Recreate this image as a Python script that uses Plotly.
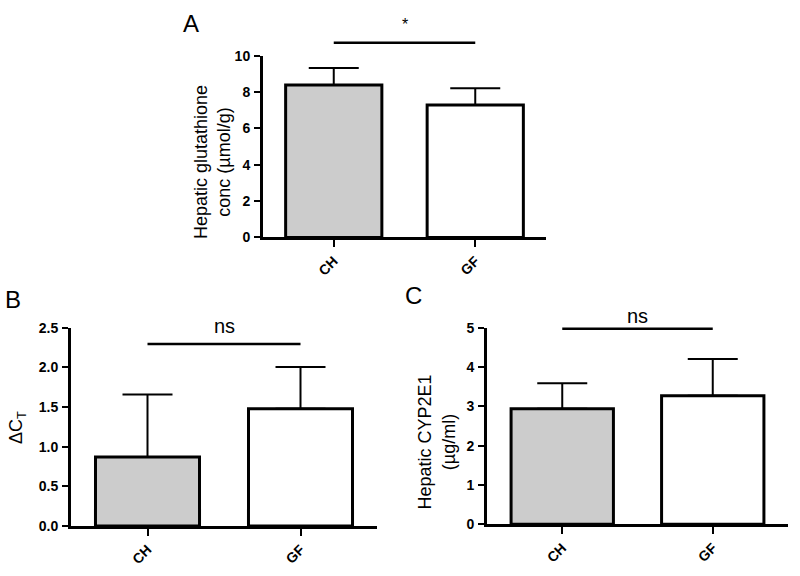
import plotly.graph_objects as go

categories = ["CH", "GF"]
bar_colors = ["#cccccc", "#ffffff"]

# Panel A: hepatic glutathione
glut_mean = [8.38, 7.29]
glut_err = [0.94, 0.91]
glut_ticks = [0, 2, 4, 6, 8, 10]

# Panel B: delta CT
dct_mean = [0.87, 1.48]
dct_err = [0.79, 0.525]
dct_ticks = [0.0, 0.5, 1.0, 1.5, 2.0, 2.5]

# Panel C: hepatic CYP2E1
cyp_mean = [2.94, 3.27]
cyp_err = [0.65, 0.94]
cyp_ticks = [0, 1, 2, 3, 4, 5]

FONT = "Liberation Sans, Arial, Helvetica, sans-serif"

fig = go.Figure()

panels = [
    dict(x="x", y="y", mean=glut_mean, err=glut_err),
    dict(x="x2", y="y2", mean=dct_mean, err=dct_err),
    dict(x="x3", y="y3", mean=cyp_mean, err=cyp_err),
]
for p in panels:
    fig.add_trace(go.Bar(
        x=categories, y=p["mean"], xaxis=p["x"], yaxis=p["y"],
        width=0.68,
        marker=dict(color=bar_colors, line=dict(color="black", width=3)),
        error_y=dict(type="data", array=p["err"], arrayminus=[0, 0],
                     symmetric=False, color="black", thickness=2, width=25),
        showlegend=False,
    ))

def xax(domain, anchor):
    return dict(domain=domain, anchor=anchor, type="category", range=[-0.5, 1.5],
                showline=True, linecolor="black", linewidth=3,
                ticks="outside", ticklen=7, tickwidth=2, tickcolor="black",
                tickangle=-45, showgrid=False, zeroline=False,
                tickfont=dict(family=FONT, size=14, color="black", weight="bold"))

def yax(domain, anchor, rng, tickvals, fmt):
    return dict(domain=domain, anchor=anchor, range=rng,
                showline=True, linecolor="black", linewidth=3,
                ticks="outside", ticklen=6, tickwidth=2, tickcolor="black",
                tickvals=tickvals, tickformat=fmt, ticklabelstandoff=1,
                showgrid=False, zeroline=False,
                tickfont=dict(family=FONT, size=14, color="black", weight="bold"))

fig.update_layout(
    width=800, height=576, autosize=False,
    margin=dict(l=0, r=0, t=0, b=0, pad=0),
    paper_bgcolor="white", plot_bgcolor="white",
    showlegend=False,
    xaxis=xax([263/800, 546/800], "y"),
    yaxis=yax([1-236/576, 1-49/576], "x", [0, 10], glut_ticks, "d"),
    xaxis2=xax([71/800, 377/800], "y2"),
    yaxis2=yax([1-532.7/576, 1-329/576], "x2", [0, 2.5], dct_ticks, ".1f"),
    xaxis3=xax([487/800, 788/800], "y3"),
    yaxis3=yax([1-531/576, 1-329/576], "x3", [0, 5], cyp_ticks, "d"),
)

# significance bars (CH centre -> GF centre, in domain fraction of each x axis)
sig = [("x domain", "y domain", 1.071, "*", 1.17, 16),
       ("x2 domain", "y2 domain", 0.918, "ns", 1.01, 20),
       ("x3 domain", "y3 domain", 0.995, "ns", 1.06, 20)]
for xr, yr, yl, txt, yt, fs in sig:
    fig.add_shape(type="line", xref=xr, yref=yr, x0=0.25, x1=0.75, y0=yl, y1=yl,
                  line=dict(color="black", width=2.5))
    fig.add_annotation(xref=xr, yref=yr, x=0.5, y=yt, text=txt, showarrow=False,
                       yanchor="middle", font=dict(family=FONT, size=fs, color="black"))

# panel letters
for txt, x, y in [("A", 191, 16), ("B", 13, 300), ("C", 414, 296)]:
    fig.add_annotation(xref="paper", yref="paper", x=x/800, y=1-y/576, text=txt,
                       showarrow=False, xanchor="center", yanchor="middle",
                       font=dict(family=FONT, size=24, color="black"))

# y-axis titles
for txt, x, y in [("Hepatic glutathione<br>conc (µmol/g)", 212.5, 159),
                  ("ΔC<sub>T</sub>", 17, 432),
                  ("Hepatic CYP2E1<br>(µg/ml)", 437, 447)]:
    fig.add_annotation(xref="paper", yref="paper", x=x/800, y=1-y/576, text=txt,
                       showarrow=False, textangle=-90, xanchor="center", yanchor="middle",
                       font=dict(family=FONT, size=18, color="black"))

fig.write_html("out.html", config={"responsive": False, "displayModeBar": False},
               post_script="document.body.style.margin='0';document.body.style.overflow='hidden';")
